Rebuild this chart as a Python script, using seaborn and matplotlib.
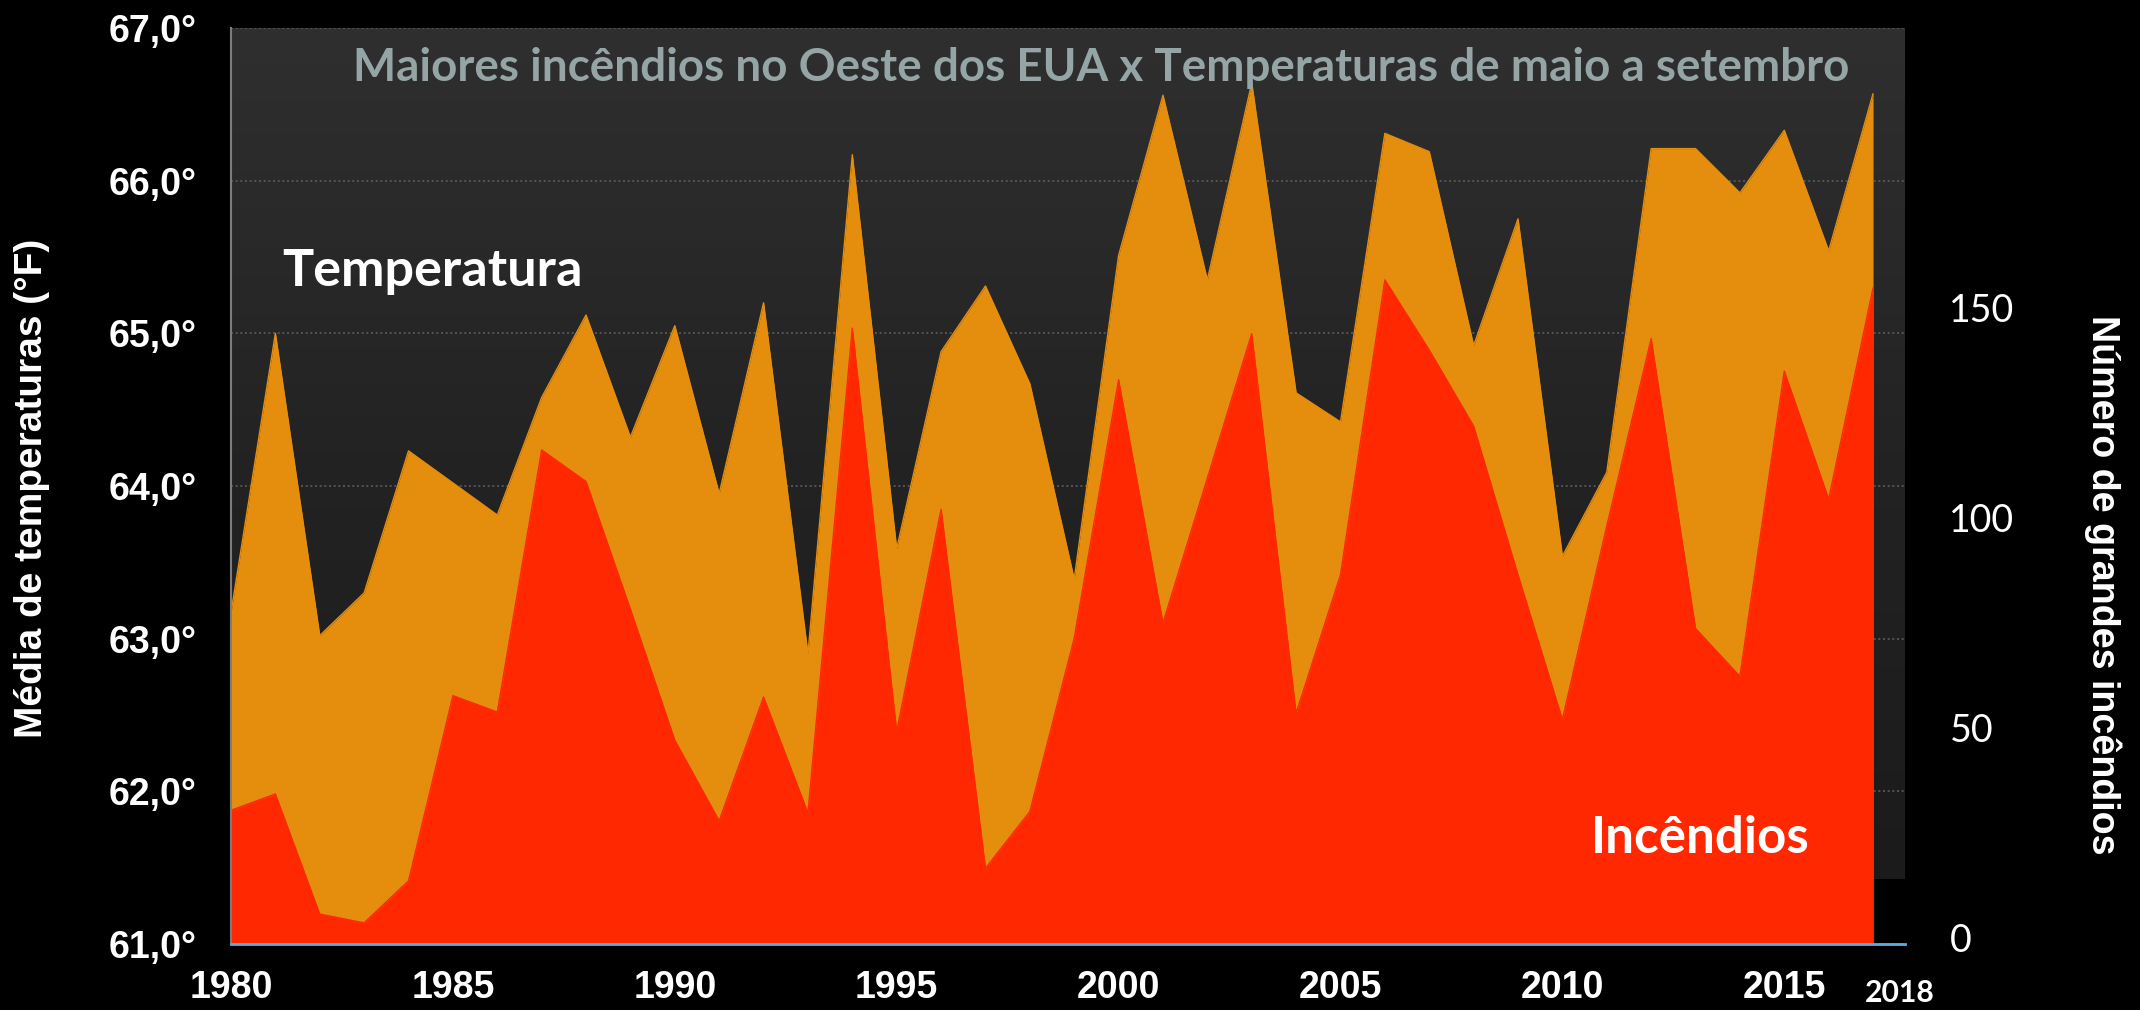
import numpy as np
import pandas as pd
import matplotlib
matplotlib.use("Agg")
import matplotlib.pyplot as plt
import seaborn as sns
from matplotlib.colors import LinearSegmentedColormap

# ---------------- data ----------------
years = [1980, 1981, 1982, 1983, 1984, 1985, 1986, 1987, 1988, 1989,
         1990, 1991, 1992, 1993, 1994, 1995, 1996, 1997, 1998, 1999,
         2000, 2001, 2002, 2003, 2004, 2005, 2006, 2007, 2008, 2009,
         2010, 2011, 2012, 2013, 2014, 2015, 2016, 2017]
temperature_f = [63.17, 65.00, 63.02, 63.30, 64.23, 64.02, 63.81, 64.58, 65.12, 64.32,
                 65.05, 63.95, 65.20, 62.90, 66.17, 63.59, 64.88, 65.31, 64.67, 63.39,
                 65.51, 66.56, 65.35, 66.64, 64.61, 64.42, 66.31, 66.19, 64.92, 65.75,
                 63.54, 64.09, 66.21, 66.21, 65.92, 66.33, 65.54, 66.57]
large_fires = [30.4, 34.3, 5.7, 3.6, 13.6, 57.7, 53.8, 116.2, 108.7, 78.3,
               47.1, 27.9, 57.4, 29.8, 145.2, 49.2, 102.1, 16.6, 30.1, 71.4,
               132.9, 75.0, 109.5, 143.9, 53.5, 86.5, 156.7, 140.0, 121.9, 86.5,
               52.0, 98.1, 142.7, 73.7, 62.3, 135.0, 104.5, 154.8]

temp_ticks = [61, 62, 63, 64, 65, 66, 67]
temp_tick_labels = ["61,0°", "62,0°", "63,0°", "64,0°", "65,0°", "66,0°", "67,0°"]
fire_ticks = [0, 50, 100, 150]
fire_tick_labels = ["0", "50", "100", "150"]
year_ticks = [1980, 1985, 1990, 1995, 2000, 2005, 2010, 2015]
year_tick_labels = ["1980", "1985", "1990", "1995", "2000", "2005", "2010", "2015"]
last_year_label = "2018"

title_text = "Maiores incêndios no Oeste dos EUA x Temperaturas de maio a setembro"
temp_series_label = "Temperatura"
fire_series_label = "Incêndios"
left_axis_title = "Média de temperaturas (°F)"
right_axis_title = "Número de grandes incêndios"

# ---------------- style ----------------
ORANGE = "#E58E0E"
RED = "#FF2800"
TITLE_GRAY = "#95A5A6"

sns.set_theme(style="dark")
plt.rcParams["font.family"] = ["Liberation Sans", "DejaVu Sans"]

df = pd.DataFrame({"ano": years, "temperatura": temperature_f, "incendios": large_fires})

W, H = 2140, 1010
fig = plt.figure(figsize=(W / 100, H / 100), dpi=100, facecolor="black")
L, R, T, B = 231, 1905, 28, 944
ax = fig.add_axes([L / W, 1 - B / H, (R - L) / W, (B - T) / H])
ax.set_facecolor("black")

px_per_year = 44.38
ax.set_xlim(1980, 1980 + (R - L) / px_per_year)
ax.set_ylim(61, 67)

# background gradient
grad_bottom = (B - 879) / (B - T)
cmap = LinearSegmentedColormap.from_list("bg", ["#1b1b1b", "#232323", "#2f2f2f"])
ax.imshow(np.linspace(0, 1, 256).reshape(-1, 1), cmap=cmap, origin="lower",
          extent=[0, 1, grad_bottom, 1], transform=ax.transAxes, aspect="auto",
          zorder=0)

ax.set_axisbelow(True)
ax.yaxis.grid(True, color="#5c5c5c", linestyle=(0, (1.2, 1.6)), linewidth=1.2)
ax.xaxis.grid(False)

# temperature area
ax.fill_between(df["ano"], 61, df["temperatura"], color=ORANGE, linewidth=0, zorder=2)
sns.lineplot(data=df, x="ano", y="temperatura", ax=ax, color=ORANGE, linewidth=1,
             zorder=3, legend=False)

ax.set_yticks(temp_ticks)
ax.set_yticklabels(temp_tick_labels)
ax.set_xticks(year_ticks)
ax.set_xticklabels(year_tick_labels)
ax.tick_params(axis="y", length=0, pad=25, labelsize=27, labelcolor="white")
ax.tick_params(axis="x", length=0, pad=19, labelsize=27, labelcolor="white")
for lab in ax.get_yticklabels() + ax.get_xticklabels():
    lab.set_fontweight("bold")
ax.set_xlabel("")
ax.set_ylabel("")
for s in ax.spines.values():
    s.set_visible(False)

# fires area on secondary axis
ax2 = ax.twinx()
ax2.set_facecolor("none")
ylo = -6 / 4.2
ax2.set_ylim(ylo, ylo + (B - T) / 4.2)
ax2.fill_between(df["ano"], ylo, df["incendios"], color=RED, linewidth=0, zorder=1)
sns.lineplot(data=df, x="ano", y="incendios", ax=ax2, color=RED, linewidth=1,
             zorder=1.5, legend=False)
ax2.set_xlim(ax.get_xlim())
ax2.set_yticks(fire_ticks)
ax2.set_yticklabels(fire_tick_labels)
ax2.tick_params(axis="y", length=0, pad=32, labelsize=27, labelcolor="white")
for lab in ax2.get_yticklabels():
    lab.set_fontfamily(["Lato", "DejaVu Sans"])
ax2.grid(False)
ax2.set_xlabel("")
ax2.set_ylabel("")
for k, s in ax2.spines.items():
    s.set_visible(False)
ax2.spines["left"].set_visible(True)
ax2.spines["left"].set_color("#7d7d7d")
ax2.spines["left"].set_linewidth(1.5)
ax2.spines["bottom"].set_visible(True)
ax2.spines["bottom"].set_color("#5DADE2")
ax2.spines["bottom"].set_linewidth(2)

# ---------------- texts ----------------
def fx(x):
    return x / W

def fy(y):
    return 1 - y / H

texts = []
t_title = fig.text(fx(1101), fy(81), title_text, ha="center", va="baseline",
                   color=TITLE_GRAY, fontweight="bold", fontsize=33,
                   family=["Lato", "DejaVu Sans"])
texts.append((t_title, 1497, False))
t_temp = fig.text(fx(282), fy(286), temp_series_label, ha="left", va="baseline",
                  color="white", fontweight="bold", fontsize=38,
                  family=["Lato", "DejaVu Sans"])
texts.append((t_temp, 301, False))
t_fire = fig.text(fx(1591), fy(853), fire_series_label, ha="left", va="baseline",
                  color="white", fontweight="bold", fontsize=35,
                  family=["Lato", "DejaVu Sans"])
texts.append((t_fire, 219, False))
t_left = fig.text(fx(32), fy(488), left_axis_title, ha="center", va="center",
                  rotation=90, color="white", fontweight="bold", fontsize=28)
texts.append((t_left, 500, True))
t_right = fig.text(fx(2103), fy(585), right_axis_title, ha="center", va="center",
                   rotation=270, color="white", fontweight="bold", fontsize=28)
texts.append((t_right, 540, True))
t_2018 = fig.text(fx(1900), fy(993), last_year_label, ha="center", va="center",
                  color="white", fontweight="bold", fontsize=20,
                  family=["Lato", "DejaVu Sans"])
texts.append((t_2018, 70, False))

fig.canvas.draw()
renderer = fig.canvas.get_renderer()
for t, target, rotated in texts:
    bb = t.get_window_extent(renderer=renderer)
    cur = bb.height if rotated else bb.width
    if cur > 0:
        t.set_fontsize(t.get_fontsize() * target / cur)

fig.savefig("out.png", dpi=100, facecolor="black")
